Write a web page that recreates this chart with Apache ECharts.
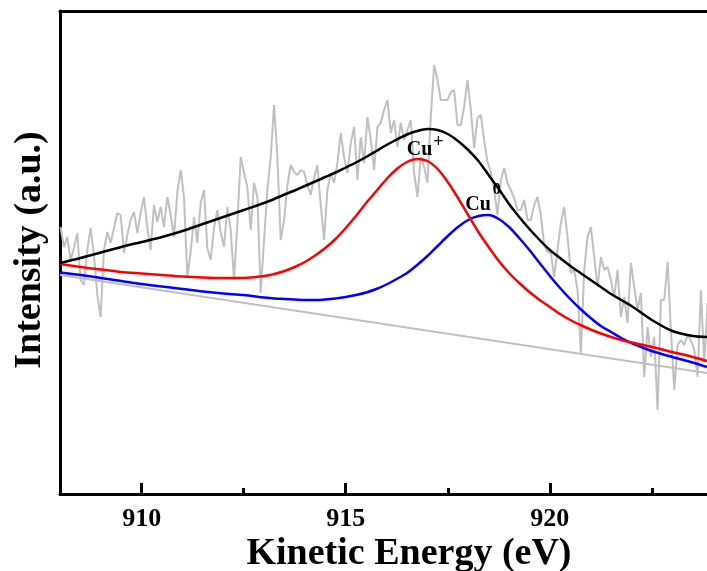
<!DOCTYPE html>
<html>
<head>
<meta charset="utf-8">
<title>Cu LMM</title>
<script src="https://cdn.jsdelivr.net/npm/echarts@6/dist/echarts.min.js"></script>
<style>
    html,
    body {
        margin: 0;
        padding: 0;
        background: #fff;
    }
    #chart {
        width: 707px;
        height: 571px;
    }
</style>
</head>
<body>
<div id="chart"></div>
<script>
// 原始谱线：能量起点和步长（eV）
let rawStart = 908.015;
let rawStep = 0.0817;
// 原始谱线强度（a.u.）
let rawIntensity = [
    267, 247, 257, 234, 246, 261, 214, 209, 244, 266, 239, 199, 177, 244, 262, 251, 266, 281, 279, 241,
    259, 274, 282, 261, 281, 297, 266, 244, 289, 272, 287, 267, 297, 279, 257, 302, 324, 297, 217, 242,
    277, 251, 291, 304, 246, 234, 266, 284, 262,
    247, 287, 264, 214, 271, 337, 321, 307, 264, 311, 297, 201, 254, 304, 337, 389, 337, 254, 274, 309,
    329, 322, 319, 324, 322, 309, 299, 316, 329, 289, 254, 304, 321, 311, 331, 361, 337, 321, 351, 367,
    314, 357, 331, 377, 354, 324, 367, 371, 384, 394, 361,
    374, 347, 371, 354, 364, 374, 321, 297, 337, 327, 311, 377, 429, 414, 394, 394, 394, 402, 404, 369,
    369, 387, 414, 384, 346, 376, 379, 354, 332, 322, 304, 279, 314, 326, 311, 304, 296, 284, 284, 294,
    274, 274, 289, 297, 279, 249, 242,
    241, 217, 244, 271, 287, 257, 221, 224, 204, 141, 224, 257, 267, 237, 207, 237, 224, 227, 214, 197,
    224, 177, 197, 171, 231, 207, 184, 201, 117, 167, 137, 157, 84, 194, 194, 232, 164, 104, 149, 154,
    149, 159, 154, 144, 117, 204, 131, 191
];

// 拟合曲线的能量点（峰区加密）
let fitEnergy = [
    908, 908.5, 909, 909.5, 910, 910.5, 911, 911.5, 912, 912.5,
    913, 913.25, 913.5, 913.75, 914, 914.25, 914.5, 914.75, 915, 915.25, 915.5, 915.75,
    916, 916.25, 916.5, 916.75, 917, 917.25, 917.5, 917.75, 918, 918.25, 918.5, 918.75,
    919, 919.25, 919.5, 919.75, 920, 920.25, 920.5, 920.75, 921, 921.25, 921.5, 921.75, 922,
    922.5, 923, 923.5, 923.85
];
// 包络（拟合总和）
let envelope = [
    231, 236, 241.5, 247, 252, 257, 263, 270, 277, 284,
    291, 295, 299.5, 303.5, 308, 312.5, 317, 321.5, 326.5, 331.5, 337, 343,
    349, 354.5, 359.5, 363, 365, 364, 360, 353, 344, 333, 319, 305,
    290, 277, 265, 254, 244, 236, 228, 221, 214, 207, 200, 194, 188,
    174, 163, 158, 157
];
// Cu+ 分峰
let cuPlus = [
    230, 227, 224.5, 222, 220.5, 219, 217.5, 216.5, 216, 216,
    218, 220, 223, 227, 232, 238.5, 246, 255, 266, 278, 291, 303,
    315, 325, 332, 335, 333, 325, 312, 296, 279, 262, 247, 233,
    221, 211, 202, 194, 187, 180, 174, 169, 164.5, 160.5, 157, 154, 151.5,
    147, 142, 137, 133
];
// Cu0 分峰
let cuZero = [
    221.5, 219, 216, 213, 210, 207.5, 205, 202.5, 200.5, 199,
    196.5, 195.5, 195, 194.5, 194, 194, 194.5, 195.5, 197, 199, 201.5, 205,
    209.5, 215, 221, 229, 238, 248, 258, 267, 274, 278, 279, 275,
    267, 256, 244, 231, 218, 206, 195, 185, 176, 168, 162, 156, 151,
    143, 137, 131.5, 127
];
// 背景（直线）
let bgEnergy = [908, 923.85];
let background = [219, 121];

// 刻度
let majorTicks = [910, 915, 920];
let minorTicks = [912.5, 917.5, 922.5];

let fontFamily = '"Liberation Serif", "DejaVu Serif", serif';

function pairs(xs, ys) {
    return ys.map((v, i) => [xs[i], v]);
}

let rawData = rawIntensity.map((v, i) => [rawStart + i * rawStep, v]);

let chart = echarts.init(document.getElementById('chart'), null, { renderer: 'canvas' });

let option = {
    animation: false,
    backgroundColor: '#fff',
    grid: {
        left: 60,
        right: 0,
        top: 11,
        bottom: 77
    },
    xAxis: [
        {
            type: 'value',
            position: 'bottom',
            min: 908,
            max: 923.85,
            axisLine: {
                show: true,
                onZero: false,
                lineStyle: { color: '#000', width: 3 }
            },
            axisTick: {
                show: true,
                inside: true,
                length: 11,
                customValues: majorTicks,
                lineStyle: { color: '#000', width: 3 }
            },
            axisLabel: {
                customValues: majorTicks,
                margin: 12,
                color: '#000',
                fontSize: 26,
                fontWeight: 'bold',
                fontFamily: fontFamily
            },
            splitLine: { show: false }
        },
        {
            // 次刻度
            type: 'value',
            position: 'bottom',
            min: 908,
            max: 923.85,
            axisLine: { show: false },
            axisTick: {
                show: true,
                inside: true,
                length: 6,
                customValues: minorTicks,
                lineStyle: { color: '#000', width: 3 }
            },
            axisLabel: { show: false },
            splitLine: { show: false }
        },
        {
            // 上边框
            type: 'value',
            position: 'top',
            min: 908,
            max: 923.85,
            axisLine: {
                show: true,
                onZero: false,
                lineStyle: { color: '#000', width: 3 }
            },
            axisTick: { show: false },
            axisLabel: { show: false },
            splitLine: { show: false }
        }
    ],
    yAxis: {
        type: 'value',
        min: 0,
        max: 483,
        axisLine: {
            show: true,
            lineStyle: { color: '#000', width: 3 }
        },
        axisTick: { show: false },
        axisLabel: { show: false },
        splitLine: { show: false }
    },
    graphic: [
        {
            type: 'text',
            x: 409,
            y: 554,
            style: {
                text: 'Kinetic Energy (eV)',
                fill: '#000',
                font: 'bold 38px ' + fontFamily,
                align: 'center',
                verticalAlign: 'middle'
            }
        },
        {
            type: 'text',
            x: 30,
            y: 250,
            rotation: Math.PI / 2,
            style: {
                text: 'Intensity (a.u.)',
                fill: '#000',
                font: 'bold 38px ' + fontFamily,
                align: 'center',
                verticalAlign: 'middle'
            }
        }
    ],
    series: [
        {
            name: 'raw',
            type: 'line',
            data: rawData,
            showSymbol: false,
            lineStyle: { color: '#c0c0c0', width: 2 },
            z: 1
        },
        {
            name: 'background',
            type: 'line',
            data: pairs(bgEnergy, background),
            showSymbol: false,
            lineStyle: { color: '#c0c0c0', width: 2 },
            z: 2
        },
        {
            name: 'Cu0',
            type: 'line',
            data: pairs(fitEnergy, cuZero),
            smooth: 0.3,
            showSymbol: false,
            lineStyle: { color: '#0000ff', width: 2.5 },
            z: 3
        },
        {
            name: 'Cu+',
            type: 'line',
            data: pairs(fitEnergy, cuPlus),
            smooth: 0.3,
            showSymbol: false,
            lineStyle: { color: '#ff0000', width: 2.5 },
            z: 4
        },
        {
            name: 'envelope',
            type: 'line',
            data: pairs(fitEnergy, envelope),
            smooth: 0.3,
            showSymbol: false,
            lineStyle: { color: '#000', width: 2.5 },
            z: 5,
            markPoint: {
                symbol: 'circle',
                symbolSize: 1,
                itemStyle: { color: 'rgba(0,0,0,0)' },
                label: {
                    show: true,
                    position: 'inside',
                    formatter: '{b}',
                    color: '#000',
                    fontWeight: 'bold',
                    fontFamily: fontFamily,
                    fontSize: 20
                },
                data: [
                    { name: 'Cu', coord: [916.81, 344] },
                    { name: '+', coord: [917.27, 352], label: { fontSize: 18 } },
                    { name: 'Cu', coord: [918.24, 289] },
                    { name: '0', coord: [918.7, 304], label: { fontSize: 16 } }
                ]
            }
        }
    ]
};

chart.setOption(option);
</script>
</body>
</html>
